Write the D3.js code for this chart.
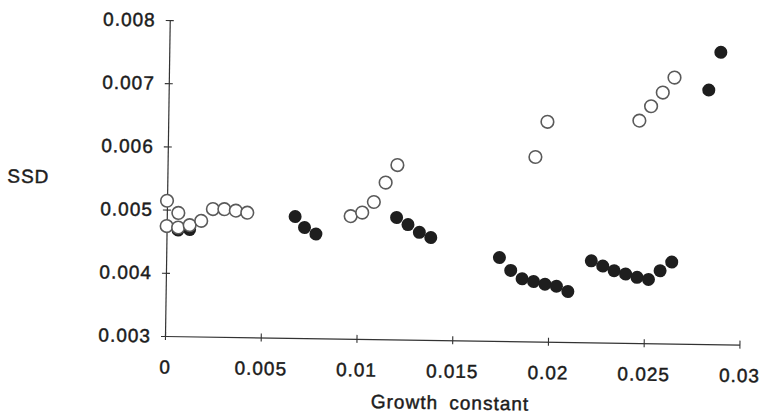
<!DOCTYPE html>
<html>
<head>
<meta charset="utf-8">
<script src="https://cdn.jsdelivr.net/npm/d3@7"></script>
<style>
  body { margin: 0; background: #ffffff; }
  text { font-family: "Liberation Sans", Arial, sans-serif; fill: #1c1c1c; }
</style>
</head>
<body>
<div id="scatter"></div>
<script>
var svgWidth = 761;
var svgHeight = 414;

// open circles
var openX = [0, 0.0006, 0, 0.0006, 0.0012, 0.0018, 0.0024, 0.0030, 0.0036, 0.0042,
    0.0096, 0.0102, 0.0108, 0.0114, 0.0120,
    0.0192, 0.0198,
    0.0246, 0.0252, 0.0258, 0.0264];
var openY = [0.00514, 0.00495, 0.00474, 0.00472, 0.00476, 0.00483, 0.00502, 0.00502, 0.00500, 0.00497,
    0.00494, 0.00500, 0.00517, 0.00548, 0.00576,
    0.00592, 0.00648,
    0.00652, 0.00675, 0.00697, 0.00721];

// filled circles
var filledX = [0.0006, 0.0012,
    0.0067, 0.0072, 0.0078,
    0.0120, 0.0126, 0.0132, 0.0138,
    0.0174, 0.0180, 0.0186, 0.0192, 0.0198, 0.0204, 0.0210,
    0.0222, 0.0228, 0.0234, 0.0240, 0.0246, 0.0252, 0.0258, 0.0264,
    0.0282, 0.0288];
var filledY = [0.00468, 0.00469,
    0.00492, 0.00475, 0.00465,
    0.00493, 0.00482, 0.00470, 0.00462,
    0.00432, 0.00412, 0.00399, 0.00395, 0.00391, 0.00388, 0.00380,
    0.00429, 0.00421, 0.00414, 0.00409, 0.00404, 0.00401, 0.00415, 0.00429,
    0.00702, 0.00762];

var xTicks = [0, 0.005, 0.01, 0.015, 0.02, 0.025, 0.03];
var xTickLabels = ["0", "0.005", "0.01", "0.015", "0.02", "0.025", "0.03"];
var yTicks = [0.003, 0.004, 0.005, 0.006, 0.007, 0.008];
var yTickLabels = ["0.003", "0.004", "0.005", "0.006", "0.007", "0.008"];

var width = 574.5;
var height = 316;

var svg = d3.select("#scatter")
    .append("svg")
    .attr("width", svgWidth)
    .attr("height", svgHeight);

// the scanned figure sits a little skewed, so turn the whole chart a bit
var chartGroup = svg.append("g")
    .attr("transform", "translate(165, 336) rotate(0.86)");

var xLinearScale = d3.scaleLinear()
    .domain([0, 0.03])
    .range([0, width]);

var yLinearScale = d3.scaleLinear()
    .domain([0.003, 0.008])
    .range([0, -height]);

var bottomAxis = d3.axisBottom(xLinearScale)
    .tickValues(xTicks)
    .tickFormat((d, i) => xTickLabels[i])
    .tickSizeOuter(0)
    .tickSizeInner(4)
    .tickPadding(20);

var leftAxis = d3.axisLeft(yLinearScale)
    .tickValues(yTicks)
    .tickFormat((d, i) => yTickLabels[i])
    .tickSizeOuter(0)
    .tickSizeInner(4)
    .tickPadding(10);

var xAxis = chartGroup.append("g")
    .call(bottomAxis);

var yAxis = chartGroup.append("g")
    .call(leftAxis);

// ticks cross the axis lines
xAxis.selectAll(".tick line").attr("y1", -4).attr("y2", 4);
yAxis.selectAll(".tick line").attr("x1", 4).attr("x2", -4);

[xAxis, yAxis].forEach(function(ax) {
    ax.select(".domain").attr("stroke", "#333").attr("stroke-width", 1.2);
    ax.selectAll(".tick line").attr("stroke", "#333").attr("stroke-width", 1.1);
    ax.selectAll("text")
        .attr("font-size", "19px")
        .attr("letter-spacing", "1px")
        .attr("fill", "#1c1c1c")
        .attr("stroke", "#1c1c1c")
        .attr("stroke-width", 0.45);
});

// filled markers first, open ones sit on top where they overlap
chartGroup.selectAll(".filled")
    .data(filledX)
    .enter().append("circle")
    .attr("class", "filled")
    .attr("cx", d => xLinearScale(d))
    .attr("cy", (d, i) => yLinearScale(filledY[i]))
    .attr("r", 6.5)
    .attr("fill", "#1e1e1e");

chartGroup.selectAll(".open")
    .data(openX)
    .enter().append("circle")
    .attr("class", "open")
    .attr("cx", d => xLinearScale(d))
    .attr("cy", (d, i) => yLinearScale(openY[i]))
    .attr("r", 6.3)
    .attr("fill", "white")
    .attr("stroke", "#5a5a5a")
    .attr("stroke-width", 1.6);

// axis titles
chartGroup.append("text")
    .attr("x", 286)
    .attr("y", 69)
    .attr("text-anchor", "middle")
    .attr("font-size", "19px")
    .attr("letter-spacing", "1px")
    .attr("word-spacing", "5px")
    .attr("stroke", "#1c1c1c")
    .attr("stroke-width", 0.45)
    .text("Growth constant");

chartGroup.append("text")
    .attr("x", -139)
    .attr("y", -151)
    .attr("text-anchor", "middle")
    .attr("font-size", "19px")
    .attr("letter-spacing", "1px")
    .attr("stroke", "#1c1c1c")
    .attr("stroke-width", 0.45)
    .text("SSD");
</script>
</body>
</html>
